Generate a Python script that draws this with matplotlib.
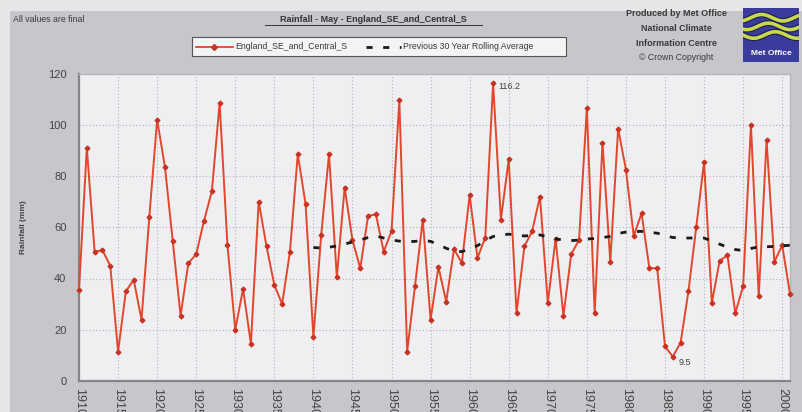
import matplotlib
matplotlib.use("Agg")
import matplotlib.pyplot as plt
import numpy as np
from matplotlib.patches import Rectangle
from matplotlib.lines import Line2D

plt.rcParams['font.family'] = ['Liberation Sans', 'DejaVu Sans']

# May rainfall (mm), England SE and Central S, 1910-2001
years = list(range(1910, 2002))
rainfall = [35.5, 91, 50.5, 51, 45, 11.5, 35, 39.5, 24, 64,
            102, 83.5, 54.5, 25.5, 46, 49.5, 62.5, 74, 108.5, 53,
            20, 36, 14.5, 70, 52.5, 37.5, 30, 50.5, 88.5, 69,
            17, 57, 88.5, 40.5, 75.5, 55, 44, 64.5, 65, 50.5,
            58.5, 109.5, 11.5, 37, 63, 24, 44.5, 31, 51.5, 46,
            72.5, 48, 56, 116.2, 63, 86.5, 26.5, 52.5, 58.5, 72,
            30.5, 55.5, 25.5, 49.5, 55, 106.5, 26.5, 93, 46.5, 98.5,
            82.5, 56.5, 65.5, 44, 44, 13.5, 9.5, 15, 35, 60,
            85.5, 30.5, 47, 49, 26.5, 37, 100, 33, 94, 46.5,
            53, 34]

# previous 30 year rolling average, 1940-2001
avg_years = list(range(1940, 2002))
rolling_avg = [52.1, 51.9, 52.2, 52.7, 53.4, 54.3, 55.0, 56.0, 56.6, 55.8,
               55.0, 54.6, 54.3, 54.5, 54.8, 54.5, 53.2, 51.8, 50.6, 50.5,
               51.6, 52.8, 54.8, 56.4, 57.0, 57.3, 56.9, 56.6, 56.8, 57.0,
               56.2, 55.5, 55.0, 54.8, 55.0, 55.4, 55.6, 55.9, 56.5, 57.6,
               58.1, 58.3, 58.4, 58.0, 57.7, 56.8, 56.0, 55.9, 55.8, 55.8,
               55.8, 54.6, 53.4, 52.2, 51.3, 50.9, 51.7, 52.4, 52.4, 52.5,
               52.7, 53.0]

xticks = list(range(1910, 2001, 5))
yticks = [0, 20, 40, 60, 80, 100, 120]

W, H = 803, 412
fig = plt.figure(figsize=(W / 100, H / 100), dpi=100)
fig.patch.set_facecolor('#e6e5e8')

# chart area background
fig.patches.append(Rectangle((10 / W, 0), 1 - 10 / W, 1 - 11 / H,
                             transform=fig.transFigure, facecolor='#c9c6cb',
                             edgecolor='none', zorder=-10))

ax = fig.add_axes([79 / W, 1 - 381 / H, (790 - 79) / W, (381 - 73.5) / H])
ax.set_facecolor('#efeef1')

red = '#e2472e'
ax.plot(years, rainfall, color=red, lw=1.4, marker='D', ms=2.4,
        mfc='#c83222', mec='#c83222', zorder=3, clip_on=False)
ax.plot(avg_years, rolling_avg, color='#1a1a1a', lw=2.0,
        linestyle=(0, (2.2, 3.8)), zorder=4)

ax.set_xlim(1910, 2001)
ax.set_ylim(0, 120)
ax.set_xticks(xticks)
ax.set_xticklabels([str(y) for y in xticks], rotation=270, fontsize=9,
                   color='#444444', va='top')
ax.set_yticks(yticks)
ax.set_yticklabels([str(v) for v in yticks], fontsize=8, color='#444444')
ax.tick_params(axis='both', length=0)
ax.tick_params(axis='x', pad=5)
ax.tick_params(axis='y', pad=9)
ax.grid(True, color='#b4b4b8', linestyle=(0, (1, 2)), lw=0.8)
ax.set_axisbelow(True)
for side in ['top', 'right']:
    ax.spines[side].set_color('#b8b7bb')
    ax.spines[side].set_linewidth(1.0)
for side in ['left', 'bottom']:
    ax.spines[side].set_color('#858488')
    ax.spines[side].set_linewidth(1.6)

ax.set_ylabel('Rainfall (mm)', fontsize=6, fontweight='bold', color='#444444',
              labelpad=15)

ax.annotate('116.2', xy=(1963, 116.2), xytext=(4, -2), textcoords='offset points',
            fontsize=6.5, color='#444444', va='center')
ax.annotate('9.5', xy=(1986, 9.5), xytext=(4, -4), textcoords='offset points',
            fontsize=6.5, color='#444444', va='center')

# header texts
fig.text(13 / W, 1 - 19 / H, 'All values are final', fontsize=6.3,
         color='#3a3a3a', va='center')
fig.text(373 / W, 1 - 19 / H, 'Rainfall - May - England_SE_and_Central_S',
         fontsize=6.5, fontweight='bold', color='#333333', ha='center',
         va='center')
fig.lines.append(Line2D([265 / W, 482 / W], [1 - 24.5 / H, 1 - 24.5 / H],
                        transform=fig.transFigure, color='#333333', lw=0.7))

# legend box
fig.patches.append(Rectangle((192 / W, 1 - 56 / H), (566 - 192) / W, 19 / H,
                             transform=fig.transFigure, facecolor='#f4f4f6',
                             edgecolor='#555555', lw=0.8, zorder=2))
ly = 1 - 46.5 / H
fig.lines.append(Line2D([196 / W, 233 / W], [ly, ly], transform=fig.transFigure,
                        color=red, lw=1.3, zorder=3))
fig.lines.append(Line2D([214.5 / W], [ly], transform=fig.transFigure,
                        marker='D', ms=3, color='#c83222', zorder=3))
fig.text(235 / W, ly, 'England_SE_and_Central_S', fontsize=6.3,
         color='#3a3a3a', va='center', zorder=4)
fig.lines.append(Line2D([366 / W, 401 / W], [ly, ly], transform=fig.transFigure,
                        color='#1a1a1a', lw=2.0, linestyle=(0, (2.2, 3.8)), zorder=3))
fig.text(403 / W, ly, 'Previous 30 Year Rolling Average', fontsize=6.3,
         color='#3a3a3a', va='center', zorder=4)

# producer block
cx = 676 / W
fig.text(cx, 1 - 14 / H, 'Produced by Met Office', fontsize=6.5,
         fontweight='bold', color='#3a3a3a', ha='center', va='center')
fig.text(cx, 1 - 28.5 / H, 'National Climate', fontsize=6.5,
         fontweight='bold', color='#3a3a3a', ha='center', va='center')
fig.text(cx, 1 - 43 / H, 'Information Centre', fontsize=6.5,
         fontweight='bold', color='#3a3a3a', ha='center', va='center')
fig.text(cx, 1 - 57 / H, '\u00a9 Crown Copyright', fontsize=6.3,
         color='#3a3a3a', ha='center', va='center')

# logo
lax = fig.add_axes([743 / W, 1 - 62 / H, 56 / W, 54 / H])
lax.set_facecolor('#3a3c9c')
t = np.linspace(0, 1, 60)
for base in [0.82, 0.66, 0.50]:
    lax.plot(t, base + 0.06 * np.sin(2 * np.pi * (t * 1.3 + base)),
             color='#1e2050', lw=4.2)
    lax.plot(t, base + 0.06 * np.sin(2 * np.pi * (t * 1.3 + base)),
             color='#c9d84e', lw=2.6)
lax.text(0.5, 0.16, 'Met Office', color='white', fontsize=6,
         fontweight='bold', ha='center', va='center')
lax.set_xlim(0, 1)
lax.set_ylim(0, 1)
lax.set_xticks([])
lax.set_yticks([])
for s in lax.spines.values():
    s.set_visible(False)

fig.savefig('out.png', dpi=100)
